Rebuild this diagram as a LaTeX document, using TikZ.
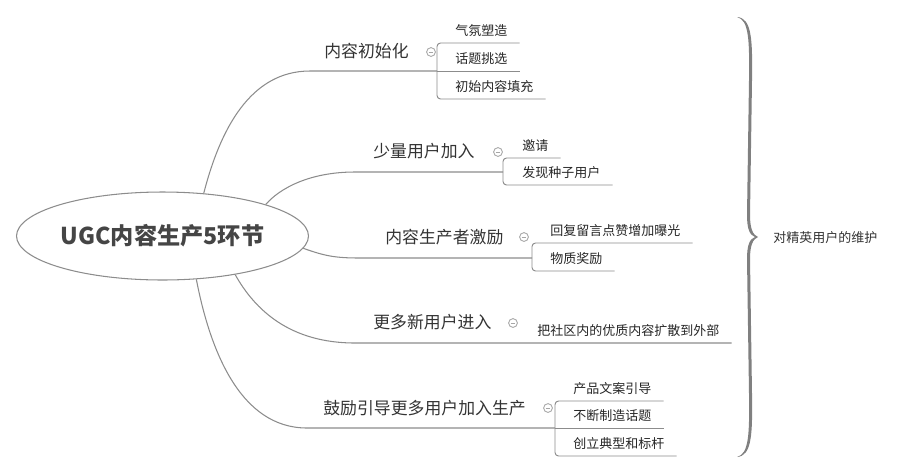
\documentclass[tikz,border=0pt]{standalone}
\usepackage{fontspec}
\setmainfont{Noto Sans CJK SC}
\usepackage{xcolor}
\definecolor{mapLine}{HTML}{8C8C8C}
\definecolor{mapText}{HTML}{333333}
\definecolor{mapRoot}{HTML}{454545}
\definecolor{mapBrace}{HTML}{808080}
\definecolor{mapFold}{HTML}{A6A6A6}
\usepackage{tikz}
\usetikzlibrary{shapes.geometric,calc}
\tikzset{
  rootnode/.style={ellipse,draw=mapLine,line width=0.6pt,minimum width=5.84cm,minimum height=1.76cm,inner sep=0pt},
  roottext/.style={font=\fontsize{13.2}{15}\selectfont\bfseries,text=mapRoot},
  topic/.style={anchor=west,inner sep=0pt,font=\fontsize{9.6}{11}\selectfont,text=mapText},
  subtopic/.style={anchor=west,inner xsep=6.8pt,inner ysep=0pt,font=\fontsize{7.4}{9}\selectfont,text=black!85},
  summary/.style={anchor=west,inner sep=0pt,font=\fontsize{7.4}{9}\selectfont,text=mapText},
  branchline/.style={draw=mapLine,line width=0.6pt},
  subline/.style={draw=mapLine,line width=0.55pt,rounded corners=2pt},
  foldmark/.style={circle,draw=mapFold,line width=0.5pt,minimum size=5pt,inner sep=0pt,
    path picture={\draw[mapFold,line width=0.5pt] ([xshift=-1.4pt]path picture bounding box.center) -- ([xshift=1.4pt]path picture bounding box.center);}},
  bracefill/.style={fill=mapBrace},
}

\begin{document}
\begin{tikzpicture}[x=0.02cm,y=-0.02cm]
  \useasboundingbox (0,0) rectangle (905,474);
  % central topic
  \node[rootnode,label={[roottext]center:UGC内容生产5环节}] (root) at (162.5,236) {};

  % branch 1
  \node[topic] (t1) at (324,51) {内容初始化};
  \node[foldmark] (f1) at (431,52) {};
  \coordinate (e1) at (310,71);
  \coordinate (k1) at (437,71);
  \coordinate (k1a) at (437,43);
  \coordinate (k1b) at (437,99);
  \draw[branchline] (root.46.7) .. controls (220,130) and (250,71) .. (e1) -- (k1);
  \node[subtopic] (c11) at (443,31) {气氛塑造};
  \node[subtopic] (c12) at (443,59) {话题挑选};
  \node[subtopic] (c13) at (443,87) {初始内容填充};
  \draw[subline] (c11.east |- k1a) -- (k1a) -- (k1b) -- (c13.east |- k1b);
  \draw[subline] (k1) -- (c12.east |- k1);

  % branch 2
  \node[topic] (t2) at (373,151) {少量用户加入};
  \node[foldmark] (f2) at (498,152) {};
  \coordinate (e2) at (355,172);
  \coordinate (k2) at (503,172);
  \coordinate (k2a) at (503,158);
  \coordinate (k2b) at (503,185);
  \draw[branchline] (root.17.7) .. controls (280,188) and (310,172) .. (e2) -- (k2);
  \node[subtopic] (c21) at (510,145.5) {邀请};
  \node[subtopic] (c22) at (510,173) {发现种子用户};
  \draw[subline] (c21.east |- k2a) -- (k2a) -- (k2b) -- (c22.east |- k2b);

  % branch 3
  \node[topic] (t3) at (385,237) {内容生产者激励};
  \node[foldmark] (f3) at (524,237) {};
  \coordinate (e3) at (360,258);
  \coordinate (k3) at (532,258);
  \coordinate (k3a) at (532,243);
  \coordinate (k3b) at (532,271);
  \draw[branchline] (root.-5.7) .. controls (325,256) and (335,258) .. (e3) -- (k3);
  \node[subtopic] (c31) at (538,231) {回复留言点赞增加曝光};
  \node[subtopic] (c32) at (538,259) {物质奖励};
  \draw[subline] (c31.east |- k3a) -- (k3a) -- (k3b) -- (c32.east |- k3b);

  % branch 4
  \node[topic] (t4) at (373,322) {更多新用户进入};
  \node[foldmark] (f4) at (513,323) {};
  \coordinate (e4) at (355,343);
  \node[subtopic] (c41) at (525,331) {把社区内的优质内容扩散到外部};
  \draw[branchline] (root.-28.8) .. controls (255,310) and (290,343) .. (e4) -- (c41.east |- e4);

  % branch 5
  \node[topic] (t5) at (323,408) {鼓励引导更多用户加入生产};
  \node[foldmark] (f5) at (548,408) {};
  \coordinate (e5) at (307,428);
  \coordinate (k5) at (555,428);
  \coordinate (k5a) at (555,401);
  \coordinate (k5b) at (555,456);
  \draw[branchline] (root.-52.3) .. controls (210,350) and (240,428) .. (e5) -- (k5);
  \node[subtopic] (c51) at (561,389) {产品文案引导};
  \node[subtopic] (c52) at (561,416) {不断制造话题};
  \node[subtopic] (c53) at (561,444) {创立典型和标杆};
  \draw[subline] (c51.east |- k5a) -- (k5a) -- (k5b) -- (c53.east |- k5b);
  \draw[subline] (k5) -- (c52.east |- k5);

  % summary brace
  \fill[bracefill] (737,17) .. controls (752,18) and (752.5,40) .. (752,80) -- (750,215)
    .. controls (750,229) and (753,235) .. (758,237) .. controls (753,239) and (750,245) .. (750,259)
    -- (752,394) .. controls (752.5,434) and (752,456) .. (737,457)
    .. controls (749,454) and (749.5,434) .. (749,394) -- (747,259)
    .. controls (747,244) and (750,239) .. (755,237) .. controls (750,235) and (747,230) .. (747,215)
    -- (749,80) .. controls (749.5,40) and (749,20) .. (737,17) -- cycle;
  \node[summary] (s1) at (773,237.5) {对精英用户的维护};
\end{tikzpicture}
\end{document}
